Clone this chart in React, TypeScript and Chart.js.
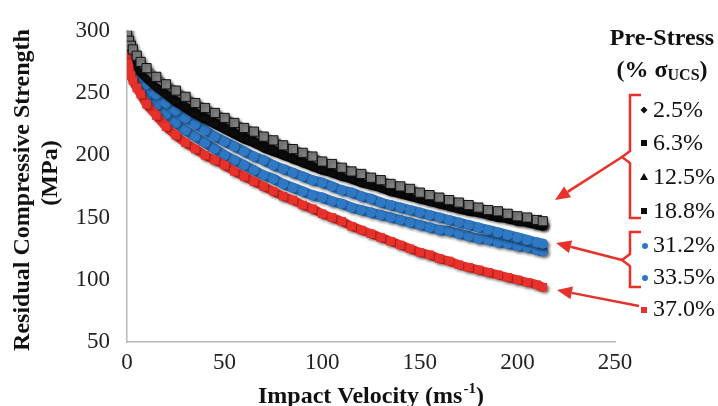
import React, { useEffect, useRef } from "react";
import { Chart, registerables } from "chart.js";

Chart.register(...registerables);

// ---------- data ----------
const velocity = [
  0, 1, 2, 3, 5, 7,
  10, 15, 20, 25, 30, 35, 40, 45, 50,
  55, 60, 65, 70, 75, 80, 85, 90, 95, 100,
  105, 110, 115, 120, 125, 130, 135, 140, 145, 150,
  155, 160, 165, 170, 175, 180, 185, 190, 195, 200,
  205, 210, 213,
];

const ps2_5 = [
  293, 288, 284, 281, 276, 271,
  266, 259, 253, 247, 242, 237, 233, 229, 225,
  221, 217, 214, 210, 207, 204, 200, 197, 195, 192,
  189, 186, 184, 181, 179, 176, 174, 172, 170, 168,
  166, 163, 161, 160, 158, 156, 154, 153, 151, 149,
  148, 146, 145,
];

const ps6_3 = [
  299, 292, 288, 285, 280, 275,
  270, 263, 257, 252, 247, 242, 238, 234, 230,
  226, 222, 219, 215, 212, 208, 205, 202, 199, 195,
  193, 190, 187, 185, 182, 180, 177, 175, 173, 170,
  168, 166, 164, 162, 160, 158, 156, 155, 153, 151,
  150, 148, 147,
];

const ps12_5 = [
  291, 285, 281, 278, 272, 267,
  262, 255, 249, 243, 238, 233, 229, 225, 221,
  217, 213, 210, 206, 203, 200, 197, 194, 191, 188,
  186, 183, 181, 178, 176, 174, 171, 169, 167, 165,
  163, 161, 159, 157, 155, 154, 152, 150, 149, 147,
  146, 144, 143,
];

const ps18_8 = [
  296, 287, 283, 280, 274, 269,
  264, 257, 251, 245, 240, 235, 231, 227, 223,
  219, 215, 212, 208, 205, 202, 199, 196, 193, 190,
  187, 185, 182, 180, 177, 175, 173, 171, 169, 166,
  164, 162, 160, 158, 157, 155, 153, 152, 150, 148,
  147, 145, 144,
];

const ps31_2 = [
  288, 281, 277, 274, 268, 263,
  257, 249, 242, 236, 230, 225, 220, 215, 211,
  207, 203, 199, 196, 192, 189, 186, 183, 180, 178,
  175, 172, 170, 167, 165, 162, 160, 158, 156, 154,
  152, 150, 148, 146, 144, 142, 140, 138, 136, 134,
  132, 130, 129,
];

const ps33_5 = [
  279, 272, 268, 265, 259, 254,
  248, 240, 233, 226, 220, 215, 210, 205, 200,
  196, 192, 188, 184, 181, 177, 174, 171, 168, 166,
  163, 161, 158, 156, 154, 152, 150, 148, 146, 144,
  142, 140, 139, 137, 135, 133, 132, 130, 129, 127,
  126, 124, 123,
];

const ps37_0 = [
  282, 270, 264, 260, 254, 249,
  241, 232, 223, 216, 210, 205, 200, 196, 192,
  187, 183, 179, 175, 171, 167, 164, 160, 157, 153,
  150, 147, 143, 140, 137, 134, 131, 128, 125, 122,
  120, 117, 115, 112, 110, 108, 106, 104, 102, 100,
  98, 96, 94,
];

const seriesLabels = ["2.5%", "6.3%", "12.5%", "18.8%", "31.2%", "33.5%", "37.0%"];
const xTickValues = [0, 50, 100, 150, 200, 250];
const yTickValues = [50, 100, 150, 200, 250, 300];

const yTitle = "Residual Compressive Strength";
const yTitleUnit = "(MPa)";
const xTitle = "Impact Velocity (ms";
const xTitleSup = "-1";
const legendTitle = "Pre-Stress";

// ---------- styles ----------
const FONT = "'Liberation Serif', 'Times New Roman', serif";
const RED = "#e8312a";
const BLUE = "#2f78c4";
const GRAY = "#7f7f7f";
const BLACK = "#0d0d0d";

const pts = (vals: number[]) => velocity.map((v, i) => ({ x: v, y: vals[i] }));

const shadowPlugin = {
  id: "bandShadow",
  beforeDatasetsDraw(chart: any) {
    const ctx = chart.ctx;
    ctx.save();
    ctx.shadowColor = "rgba(0,0,0,0.35)";
    ctx.shadowBlur = 3;
    ctx.shadowOffsetX = 2;
    ctx.shadowOffsetY = 2;
  },
  afterDatasetsDraw(chart: any) {
    chart.ctx.restore();
  },
};

function arrow(ctx: CanvasRenderingContext2D, x1: number, y1: number, x2: number, y2: number) {
  const ang = Math.atan2(y2 - y1, x2 - x1);
  const len = 15;
  const hw = 6.5;
  const bx = x2 - Math.cos(ang) * len;
  const by = y2 - Math.sin(ang) * len;
  ctx.beginPath();
  ctx.moveTo(x1, y1);
  ctx.lineTo(bx, by);
  ctx.stroke();
  ctx.beginPath();
  ctx.moveTo(x2, y2);
  ctx.lineTo(bx + Math.sin(ang) * hw, by - Math.cos(ang) * hw);
  ctx.lineTo(bx - Math.sin(ang) * hw, by + Math.cos(ang) * hw);
  ctx.closePath();
  ctx.fill();
}

const annotationPlugin = {
  id: "annotations",
  afterDraw(chart: any) {
    const ctx: CanvasRenderingContext2D = chart.ctx;
    ctx.save();
    ctx.fillStyle = "#111";
    ctx.textBaseline = "alphabetic";

    // y title
    ctx.font = `bold 24px ${FONT}`;
    ctx.textAlign = "center";
    ctx.save();
    ctx.translate(29, 190);
    ctx.rotate(-Math.PI / 2);
    ctx.fillText(yTitle, 0, 0);
    ctx.restore();
    ctx.save();
    ctx.translate(57, 173);
    ctx.rotate(-Math.PI / 2);
    ctx.fillText(yTitleUnit, 0, 0);
    ctx.restore();

    // x title with superscript
    ctx.textAlign = "left";
    ctx.font = `bold 24px ${FONT}`;
    let x = 258;
    const base = 403;
    ctx.fillText(xTitle, x, base);
    x += ctx.measureText(xTitle).width;
    ctx.font = `bold 15px ${FONT}`;
    ctx.fillText(xTitleSup, x + 1, base - 10);
    x += ctx.measureText(xTitleSup).width + 1;
    ctx.font = `bold 24px ${FONT}`;
    ctx.fillText(")", x, base);

    // legend title
    ctx.textAlign = "center";
    ctx.fillText(legendTitle, 662, 45);
    ctx.textAlign = "left";
    const p1 = "(% σ";
    const sub = "UCS";
    const p2 = ")";
    ctx.font = `bold 24px ${FONT}`;
    const w1 = ctx.measureText(p1).width;
    const w3 = ctx.measureText(p2).width;
    ctx.font = `bold 16px ${FONT}`;
    const w2 = ctx.measureText(sub).width;
    let lx = 662 - (w1 + w2 + w3) / 2;
    ctx.font = `bold 24px ${FONT}`;
    ctx.fillText(p1, lx, 77);
    lx += w1;
    ctx.font = `bold 16px ${FONT}`;
    ctx.fillText(sub, lx, 80);
    lx += w2;
    ctx.font = `bold 24px ${FONT}`;
    ctx.fillText(p2, lx, 77);

    // legend items
    const baselines = [117, 150, 184, 218, 252, 284, 316];
    ctx.font = `24px ${FONT}`;
    seriesLabels.forEach((lab, i) => {
      const by = baselines[i];
      const my = by - 7;
      const mx = 644;
      ctx.fillStyle = "#111";
      ctx.fillText(lab, 653, by);
      ctx.beginPath();
      if (i === 0) {
        ctx.fillStyle = BLACK;
        ctx.moveTo(mx, my - 3.5);
        ctx.lineTo(mx + 3.5, my);
        ctx.lineTo(mx, my + 3.5);
        ctx.lineTo(mx - 3.5, my);
        ctx.closePath();
        ctx.fill();
      } else if (i === 1 || i === 3) {
        ctx.fillStyle = BLACK;
        ctx.fillRect(mx - 3, my - 3, 6, 6);
      } else if (i === 2) {
        ctx.fillStyle = BLACK;
        ctx.moveTo(mx, my - 4);
        ctx.lineTo(mx + 4, my + 3);
        ctx.lineTo(mx - 4, my + 3);
        ctx.closePath();
        ctx.fill();
      } else if (i === 4 || i === 5) {
        ctx.fillStyle = BLUE;
        ctx.arc(mx + 1, my + 1, 3, 0, Math.PI * 2);
        ctx.fill();
      } else {
        ctx.fillStyle = RED;
        ctx.fillRect(mx - 3, my - 2, 6, 6);
      }
    });

    // brackets and arrows
    ctx.strokeStyle = RED;
    ctx.fillStyle = RED;
    ctx.lineWidth = 2.5;
    ctx.lineJoin = "miter";
    ctx.beginPath();
    ctx.moveTo(641, 95);
    ctx.lineTo(630, 95);
    ctx.lineTo(630, 151);
    ctx.lineTo(622, 157);
    ctx.lineTo(630, 163);
    ctx.lineTo(630, 218);
    ctx.lineTo(641, 218);
    ctx.stroke();
    arrow(ctx, 622, 157, 555, 200);

    ctx.beginPath();
    ctx.moveTo(641, 232);
    ctx.lineTo(630, 232);
    ctx.lineTo(630, 254);
    ctx.lineTo(622, 260);
    ctx.lineTo(630, 266);
    ctx.lineTo(630, 287);
    ctx.lineTo(641, 287);
    ctx.stroke();
    arrow(ctx, 622, 260, 556, 243);

    arrow(ctx, 639, 306, 557, 290);

    ctx.restore();
  },
};

export default function App() {
  const ref = useRef<HTMLCanvasElement | null>(null);

  useEffect(() => {
    if (!ref.current) return;
    const band = (vals: number[], opts: any) => ({
      data: pts(vals),
      showLine: true,
      tension: 0.3,
      borderJoinStyle: "round",
      borderCapStyle: "round",
      ...opts,
    });
    const chart = new Chart(ref.current, {
      type: "line",
      data: {
        datasets: [
          band(ps2_5, {
            label: seriesLabels[0], borderColor: BLACK, backgroundColor: BLACK,
            borderWidth: 9, pointStyle: "rectRot", pointRadius: 5, pointBorderWidth: 0, order: 3,
          }),
          band(ps6_3, {
            label: seriesLabels[1], borderColor: GRAY, backgroundColor: GRAY,
            borderWidth: 8, pointStyle: "rect", pointRadius: 6.5, pointBorderWidth: 1,
            pointBorderColor: "#111", order: 0,
          }),
          band(ps12_5, {
            label: seriesLabels[2], borderColor: BLACK, backgroundColor: BLACK,
            borderWidth: 9, pointStyle: "triangle", pointRadius: 5, pointBorderWidth: 0, order: 4,
          }),
          band(ps18_8, {
            label: seriesLabels[3], borderColor: BLACK, backgroundColor: BLACK,
            borderWidth: 9, pointStyle: "rect", pointRadius: 6, pointBorderWidth: 0, order: 2,
          }),
          band(ps31_2, {
            label: seriesLabels[4], borderColor: BLUE, backgroundColor: BLUE,
            borderWidth: 10, pointStyle: "circle", pointRadius: 5, pointBorderWidth: 0, order: 5,
          }),
          band(ps33_5, {
            label: seriesLabels[5], borderColor: BLUE, backgroundColor: BLUE,
            borderWidth: 10, pointStyle: "circle", pointRadius: 5, pointBorderWidth: 0, order: 6,
          }),
          band(ps37_0, {
            label: seriesLabels[6], borderColor: RED, backgroundColor: RED,
            borderWidth: 9, pointStyle: "rect", pointRadius: 6, pointBorderWidth: 0, order: 1,
          }),
        ],
      },
      options: {
        responsive: false,
        animation: false,
        devicePixelRatio: 1,
        layout: { padding: { left: 0, right: 103, top: 22, bottom: 0 } },
        plugins: { legend: { display: false }, tooltip: { enabled: false }, title: { display: false } },
        scales: {
          x: {
            type: "linear",
            min: 0,
            max: 250,
            afterBuildTicks: (s: any) => { s.ticks = xTickValues.map((v) => ({ value: v })); },
            afterFit: (s: any) => { s.height = 64; },
            grid: { display: false, drawTicks: false },
            border: { display: true, color: "#b8b8b8", width: 1.5 },
            ticks: { color: "#222", font: { family: FONT, size: 23 }, padding: 7, maxRotation: 0 },
          },
          y: {
            type: "linear",
            min: 50,
            max: 300,
            afterBuildTicks: (s: any) => { s.ticks = yTickValues.map((v) => ({ value: v })); },
            afterFit: (s: any) => { s.width = 127; },
            grid: { display: false, drawTicks: false },
            border: { display: true, color: "#b8b8b8", width: 1.5 },
            ticks: { color: "#222", font: { family: FONT, size: 23 }, padding: 17 },
          },
        },
      },
      plugins: [shadowPlugin, annotationPlugin],
    } as any);
    return () => chart.destroy();
  }, []);

  return (
    <div style={{ position: "absolute", left: 0, top: 0, width: 718, height: 406, background: "#fff" }}>
      <canvas ref={ref} width={718} height={406} style={{ display: "block" }} />
    </div>
  );
}
